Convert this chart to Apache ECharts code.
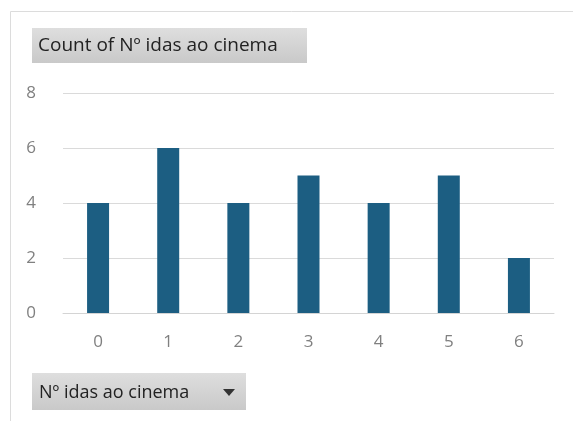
<!DOCTYPE html>
<html>
<head>
<meta charset="utf-8">
<script src="https://cdn.jsdelivr.net/npm/echarts@6/dist/echarts.min.js"></script>
<style>
  html, body { margin: 0; padding: 0; background: #fff; }
  #chart { width: 573px; height: 421px; }
</style>
</head>
<body>
<div id="chart"></div>
<script>
// Number of cinema visits (category) and how many people reported each
const categories = ['0', '1', '2', '3', '4', '5', '6'];
const counts = [4, 6, 4, 5, 4, 5, 2];
const yTicks = [0, 2, 4, 6, 8];

const valueTitle = 'Count of Nº idas ao cinema';
const fieldButton = 'Nº idas ao cinema';

const FONT = '"Open Sans", "DejaVu Sans", sans-serif';
const buttonFill = {
  type: 'linear', x: 0, y: 0, x2: 0, y2: 1,
  colorStops: [{ offset: 0, color: '#dedede' }, { offset: 1, color: '#c9c9c9' }]
};

const chart = echarts.init(document.getElementById('chart'), null, { renderer: 'canvas' });
chart.setOption({
  animation: false,
  backgroundColor: '#ffffff',
  grid: { left: 63, right: 19, top: 93, bottom: 108, containLabel: false },
  xAxis: {
    type: 'category',
    data: categories,
    axisLine: { show: true, lineStyle: { color: '#d4d4d4', width: 1 } },
    axisTick: { show: false },
    axisLabel: { color: '#808080', fontFamily: FONT, fontSize: 17, margin: 21 }
  },
  yAxis: {
    type: 'value',
    min: yTicks[0],
    max: yTicks[yTicks.length - 1],
    interval: 2,
    axisLine: { show: false },
    axisTick: { show: false },
    axisLabel: { color: '#808080', fontFamily: FONT, fontSize: 17, margin: 27 },
    splitLine: { lineStyle: { color: '#dadada', width: 1 } }
  },
  series: [{
    type: 'bar',
    data: counts,
    barWidth: 22,
    itemStyle: { color: '#1c5e82' }
  }],
  graphic: [
    // outer frame (top and left edges)
    { type: 'polyline', silent: true, shape: { points: [[10.5, 421], [10.5, 11.5], [573, 11.5]] },
      style: { stroke: '#dcdcdc', lineWidth: 1, fill: null } },
    // value field button
    { type: 'rect', silent: true, shape: { x: 32, y: 28, width: 275, height: 35 },
      style: { fill: buttonFill } },
    { type: 'text', silent: true, x: 38, y: 46,
      style: { text: valueTitle, fill: '#222222', font: '19px ' + FONT, verticalAlign: 'middle' } },
    // axis field button with dropdown arrow
    { type: 'rect', silent: true, shape: { x: 32, y: 373, width: 214, height: 37 },
      style: { fill: buttonFill } },
    { type: 'text', silent: true, x: 39, y: 393,
      style: { text: fieldButton, fill: '#222222', font: '18px ' + FONT, verticalAlign: 'middle' } },
    { type: 'polygon', silent: true, shape: { points: [[223, 389], [235, 389], [229, 396]] },
      style: { fill: '#333333' } }
  ]
});
</script>
</body>
</html>
